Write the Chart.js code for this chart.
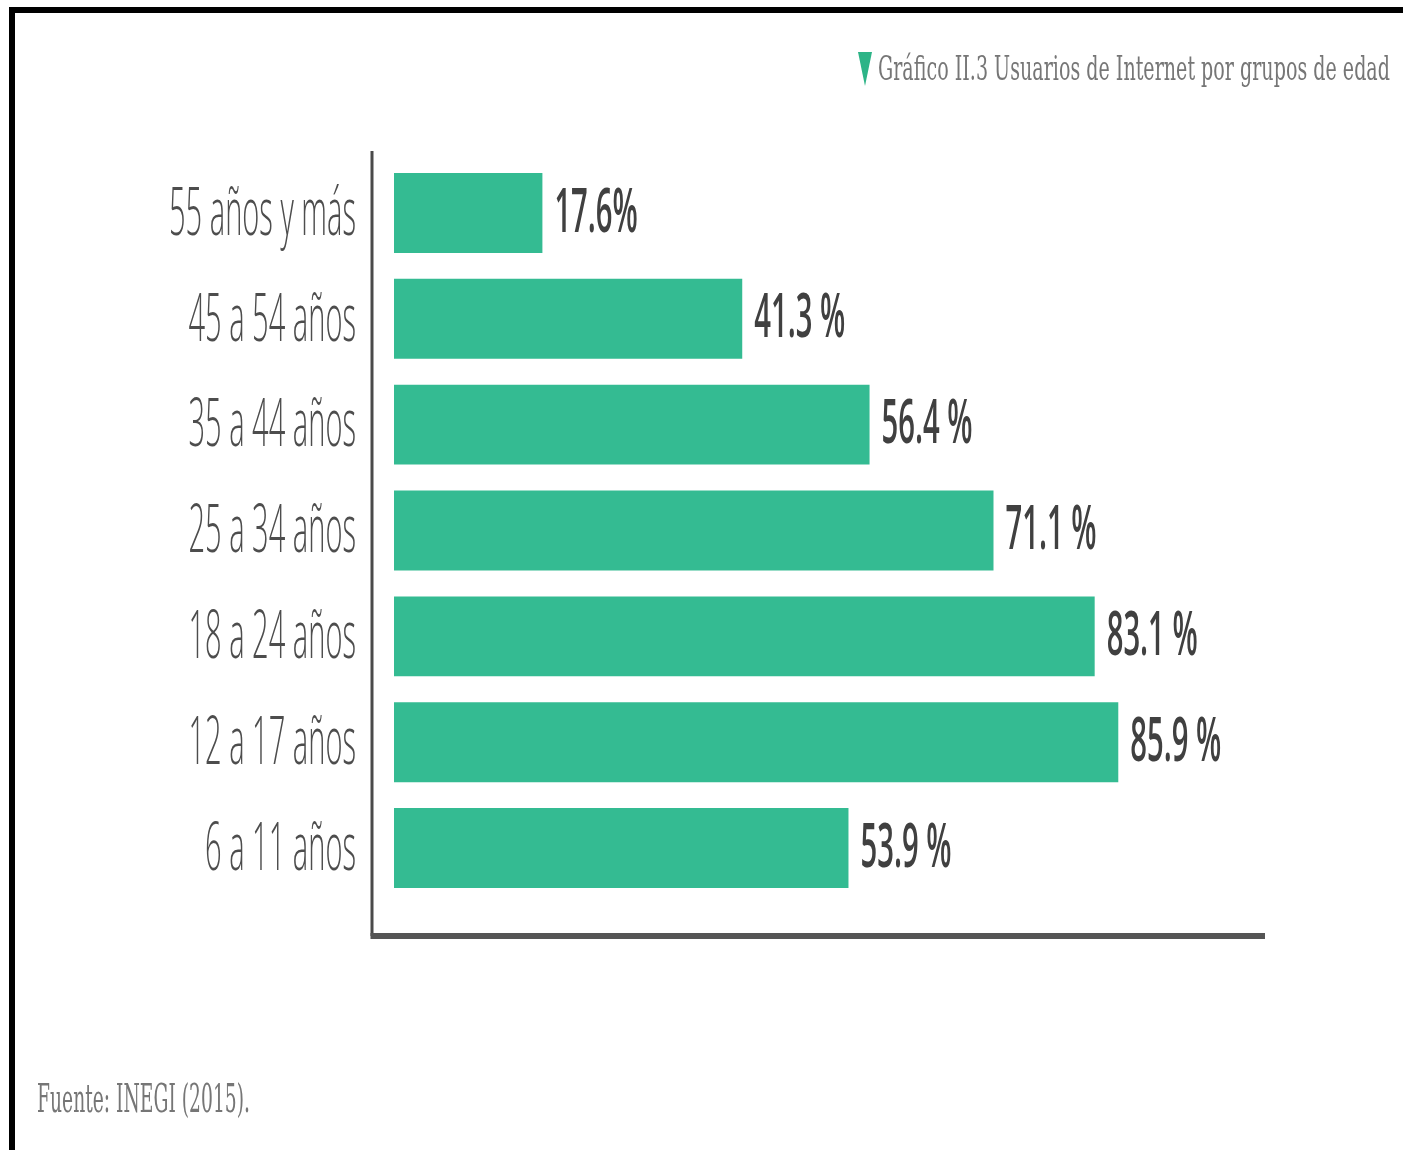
<!DOCTYPE html>
<html>
<head>
<meta charset="utf-8">
<script src="https://cdn.jsdelivr.net/npm/chart.js@4"></script>
<style>
  html, body { margin: 0; padding: 0; background: #fff; }
  #wrap { position: relative; width: 1403px; height: 1150px; overflow: hidden; }
  #chartBox { position: absolute; left: 0; top: 0; width: 1403px; height: 1150px; }
  .frameTop { position: absolute; left: 9px; top: 7px; width: 1394px; height: 6px; background: #000; }
  .frameLeft { position: absolute; left: 9px; top: 7px; width: 6px; height: 1143px; background: #000; }
  .tri { position: absolute; left: 858px; top: 52px; width: 14px; height: 34px;
         background: #2db487; clip-path: polygon(0 0, 100% 0, 50% 100%); }
  .txt { position: absolute; white-space: nowrap; font-family: "DejaVu Serif", serif; color: #767676; line-height: 1; }
  #title { right: 13px; top: 52px; font-size: 33px; transform-origin: right top; }
  #source { left: 37px; top: 1078px; font-size: 40px; transform-origin: left top; }
</style>
</head>
<body>
<div id="wrap">
  <div id="chartBox"><canvas id="myChart"></canvas></div>
  <div class="frameTop"></div>
  <div class="frameLeft"></div>
  <div class="tri"></div>
  <div class="txt" id="title">Gráfico II.3 Usuarios de Internet por grupos de edad</div>
  <div class="txt" id="source">Fuente: INEGI (2015).</div>
</div>
<script>
  const ageGroups = [
    '55 años y más',
    '45 a 54 años',
    '35 a 44 años',
    '25 a 34 años',
    '18 a 24 años',
    '12 a 17 años',
    '6 a 11 años',
  ];
  const internetUsers = [17.6, 41.3, 56.4, 71.1, 83.1, 85.9, 53.9];
  const valueSuffix = ['%', ' %', ' %', ' %', ' %', ' %', ' %'];

  // squeeze the html texts to the width they have in the picture
  function squeeze(id, width) {
    const el = document.getElementById(id);
    el.style.transform = 'scaleX(' + (width / el.offsetWidth) + ')';
  }
  squeeze('title', 512);
  squeeze('source', 213);

  // axis lines, category names and value labels (condensed look)
  const decor = {
    id: 'decor',
    afterDatasetsDraw(chart) {
      const ctx = chart.ctx;
      const area = chart.chartArea;
      const yScale = chart.scales.y;

      ctx.save();
      ctx.fillStyle = '#4a4a4a';
      ctx.fillRect(area.left - 1.5, area.top - 9, 3, area.bottom + 35 - (area.top - 9));
      ctx.fillStyle = '#555';
      ctx.fillRect(area.left - 1.5, area.bottom + 32, area.right - area.left + 1.5, 6);

      ctx.font = '300 66px "Open Sans"';
      ctx.fillStyle = '#4d4d4d';
      ctx.textAlign = 'right';
      ctx.textBaseline = 'middle';
      const sxCat = 187 / ctx.measureText(ageGroups[0]).width;
      yScale.getLabels().forEach((lab, i) => {
        ctx.save();
        ctx.translate(area.left - 16, yScale.getPixelForValue(i) + 3);
        ctx.scale(sxCat, 1);
        ctx.fillText(lab, 0, 0);
        ctx.restore();
      });

      ctx.font = '600 62px "Open Sans"';
      ctx.fillStyle = '#404040';
      ctx.textAlign = 'left';
      const sxVal = 91 / ctx.measureText('85.9 %').width;
      chart.getDatasetMeta(0).data.forEach((bar, i) => {
        const txt = internetUsers[i].toFixed(1) + valueSuffix[i];
        ctx.save();
        ctx.translate(bar.x + 12, bar.y + 1);
        ctx.scale(sxVal, 1);
        ctx.fillText(txt, 0, 0);
        ctx.restore();
      });
      ctx.restore();
    }
  };

  const data = {
    labels: ageGroups,
    datasets: [
      {
        label: 'Usuarios de Internet',
        data: internetUsers,
        backgroundColor: '#34bb92',
        borderWidth: 0,
        barPercentage: 0.755,
        categoryPercentage: 1,
      }
    ]
  };

  const config = {
    type: 'bar',
    data: data,
    options: {
      indexAxis: 'y',
      responsive: true,
      maintainAspectRatio: false,
      animation: false,
      layout: {
        padding: { left: 372, right: 138, top: 160, bottom: 249 }
      },
      plugins: {
        legend: { display: false },
        tooltip: { enabled: false },
      },
      scales: {
        x: { display: false, min: -2.61, max: 103.3 },
        y: { display: false },
      }
    },
    plugins: [decor]
  };

  const myChart = new Chart(
    document.getElementById('myChart'),
    config
  );
</script>
</body>
</html>
